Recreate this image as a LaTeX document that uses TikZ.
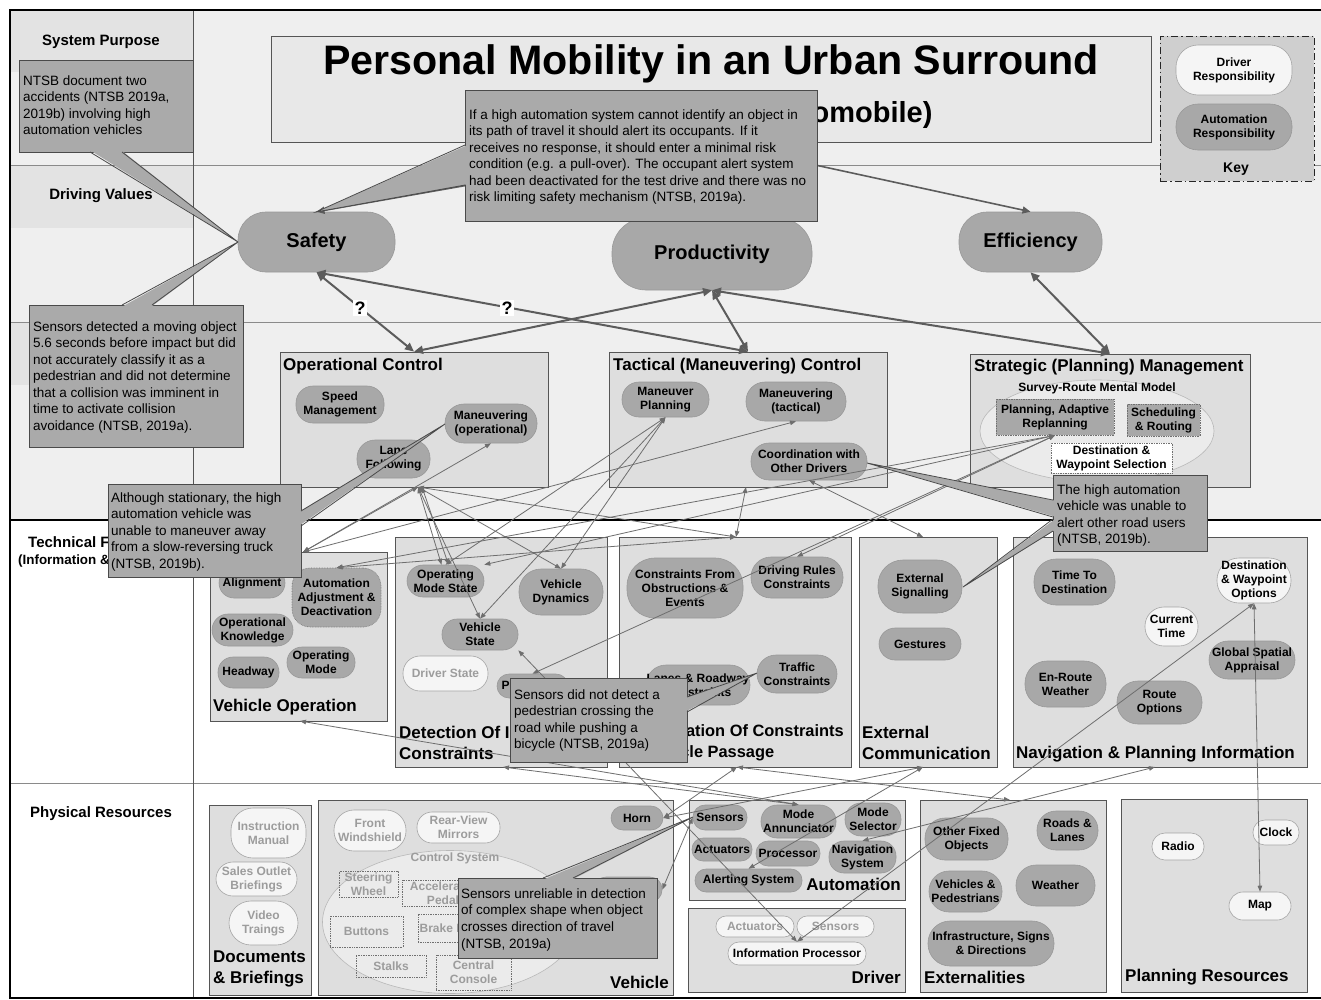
\documentclass[tikz,border=0pt]{standalone}
\usepackage{fontspec}
\setmainfont{Liberation Sans}
\usetikzlibrary{arrows.meta,shapes.geometric}

\definecolor{lanebg}{HTML}{EFEFEF}
\definecolor{band}{HTML}{E3E3E3}
\definecolor{boxfill}{HTML}{DEDEDE}
\definecolor{boxline}{HTML}{555555}
\definecolor{autofill}{HTML}{A8A8A8}
\definecolor{autoline}{HTML}{989898}
\definecolor{drvfill}{HTML}{F5F5F5}
\definecolor{drvline}{HTML}{A5A5A5}
\definecolor{notefill}{HTML}{AAAAAA}
\definecolor{noteline}{HTML}{4A4A4A}
\definecolor{faint}{HTML}{9C9C9C}
\definecolor{linkc}{HTML}{6E6E6E}
\definecolor{vlinkc}{HTML}{5C5C5C}
\definecolor{keyfill}{HTML}{CFCFCF}
\definecolor{titlefill}{HTML}{E8E8E8}
\definecolor{mmfill}{HTML}{EBEBEB}
\definecolor{mmline}{HTML}{B8B8B8}
\definecolor{dotline}{HTML}{707070}
\definecolor{sepline}{HTML}{8A8A8A}

% place a node by its bounding corners (x1,y1) (x2,y2)
\newcommand\placenode[7]{%
  \pgfmathsetmacro\pnx{(#3+#5)/2}%
  \pgfmathsetmacro\pny{(#4+#6)/2}%
  \pgfmathsetmacro\pnw{#5-#3}%
  \pgfmathsetmacro\pnh{#6-#4}%
  \node[#1, minimum width=\pnw pt, minimum height=\pnh pt] (#2) at (\pnx,\pny) {#7};}

\tikzset{
  lbl/.style={font=\bfseries\fontsize{12}{14}\selectfont, align=center, text=black},
  anode/.style={rectangle, rounded corners=#1, draw=autoline, fill=autofill, line width=0.6pt, inner sep=0pt, lbl},
  anode/.default=12pt,
  dnode/.style={rectangle, rounded corners=#1, draw=drvline, fill=drvfill, line width=0.6pt, inner sep=0pt, lbl},
  dnode/.default=12pt,
  faded/.style={text=faint},
  dotbox/.style={rectangle, draw=dotline, densely dotted, line width=0.7pt, inner sep=0pt, lbl},
  box/.style={rectangle, draw=boxline, fill=boxfill, line width=0.8pt, inner sep=0pt},
  boxtitle/.style={font=\bfseries\fontsize{17}{21}\selectfont, inner sep=0pt, align=left},
  lanelabel/.style={font=\bfseries\fontsize{15}{18}\selectfont, align=center, inner sep=0pt},
  vnode/.style={rectangle, rounded corners=28pt, draw=autoline, fill=autofill, line width=0.6pt, inner sep=0pt, font=\bfseries\fontsize{20}{24}\selectfont},
  note/.style={rectangle, draw=noteline, fill=notefill, line width=0.8pt, inner sep=0pt},
  notetext/.style={font=\fontsize{13.5}{16.5}\selectfont, align=left, anchor=north west, inner sep=0pt},
  wedgeline/.style={draw=noteline, line width=0.8pt, line join=miter},
  link/.style={draw=linkc, line width=0.8pt, >={Triangle[length=6pt,width=4.5pt]}, <->},
  vlink/.style={draw=vlinkc, line width=2pt, >={Triangle[length=9pt,width=8pt]}, <->},
  tlink/.style={draw=vlinkc, line width=1.6pt, >={Triangle[length=8pt,width=7pt]}, ->},
  qmark/.style={fill=white, inner sep=1.5pt, font=\bfseries\fontsize{18}{18}\selectfont},
}

\begin{document}
\begin{tikzpicture}[x=1pt,y=-1pt]
\useasboundingbox (0,0) rectangle (1321,999);

% ---------------- lanes ----------------
\fill[white] (0,0) rectangle (1321,999);
\fill[lanebg] (10,10) rectangle (1321,520);
\fill[band] (10,10) rectangle (193,72);
\fill[band] (10,166) rectangle (193,228);
\fill[band] (10,323) rectangle (193,385);
\draw[sepline, line width=0.8pt] (10,165) -- (1321,165);
\draw[sepline, line width=0.8pt] (10,322) -- (1321,322);
\draw[black, line width=1.3pt] (10,520) -- (1321,520);
\draw[sepline, line width=0.8pt] (10,783) -- (1321,783);
\draw[boxline, line width=0.8pt] (193,10) -- (193,998);
\draw[black, line width=1.6pt] (1321,10) -- (10,10) -- (10,998) -- (1321,998);

\node[lanelabel] (lsp) at (101,42) {System Purpose};
\node[lanelabel] (ldv) at (101,196) {Driving Values};
\node[lanelabel, anchor=west] (ltf) at (28,542) {Technical Functions};
\node[font=\bfseries\fontsize{13.4}{16}\selectfont, anchor=west, inner sep=0pt] (ltf2) at (18,561) {(Information \& Resources)};
\node[lanelabel] (lpr) at (101,814) {Physical Resources};

% ---------------- title and key ----------------
\placenode{rectangle, draw=boxline, fill=titlefill, line width=0.8pt, inner sep=0pt}{title}{271}{36}{1151}{142}{}
\node[font=\bfseries\fontsize{41.2}{44}\selectfont] (t1) at (711,64) {Personal Mobility in an Urban Surround};
\node[font=\bfseries\fontsize{29}{34}\selectfont, anchor=east] (t2) at (936,115) {(Automobile)};

\placenode{rectangle, draw=black!85, fill=keyfill, line width=1pt, dash pattern=on 7pt off 3pt on 1.5pt off 3pt, inner sep=0pt}{key}{1160}{36}{1314}{181}{}
\placenode{dnode=22pt}{kdrv}{1176}{45}{1292}{95}{Driver\\Responsibility}
\placenode{anode=22pt}{kaut}{1176}{104}{1292}{150}{Automation\\Responsibility}
\node[font=\bfseries\fontsize{14}{16}\selectfont] (keyl) at (1236,169) {Key};

% ---------------- driving values ----------------
\placenode{vnode}{safety}{238}{212}{395}{272}{Safety}
\placenode{vnode, rounded corners=34pt}{prod}{612}{218}{812}{290}{Productivity}
\placenode{vnode}{eff}{959}{212}{1102}{272}{Efficiency}

% ---------------- control levels ----------------
\placenode{box}{opctl}{280}{352}{548}{487}{}
\node[boxtitle, anchor=north west] (opctlt) at (283,358) {Operational Control};
\placenode{anode=17pt}{speed}{296}{386}{384}{423}{Speed\\Management}
\placenode{anode=19pt}{manop}{445}{404}{537}{443}{Maneuvering\\(operational)}
\placenode{anode=18pt}{lanef}{357}{440}{430}{478}{Lane\\Following}

\placenode{box}{tacctl}{609}{352}{887}{487}{}
\node[boxtitle, anchor=north west] (tacctlt) at (613,358) {Tactical (Maneuvering) Control};
\placenode{anode=17pt}{manplan}{622}{382}{709}{417}{Maneuver\\Planning}
\placenode{anode=19pt}{mantac}{746}{382}{846}{421}{Maneuvering\\(tactical)}
\placenode{anode=18pt}{coord}{751}{443}{867}{480}{Coordination with\\Other Drivers}

\placenode{box}{strat}{970}{354}{1250}{487}{}
\node[boxtitle, anchor=north west] (stratt) at (974,359) {Strategic (Planning) Management};
\node[ellipse, draw=mmline, fill=mmfill, line width=0.6pt, minimum width=234pt, minimum height=102pt, inner sep=0pt] (mm) at (1097,431) {};
\node[lbl] (mml) at (1097,388) {Survey-Route Mental Model};
\placenode{dotbox, fill=autofill}{replan}{996}{399}{1114}{435}{Planning, Adaptive\\Replanning}
\placenode{dotbox, fill=autofill}{sched}{1127}{404}{1200}{436}{Scheduling\\\& Routing}
\placenode{dotbox, fill=white}{destsel}{1051}{443}{1172}{473}{Destination \&\\Waypoint Selection}

% ---------------- technical functions ----------------
\placenode{box}{vehop}{210}{552}{387}{721}{}
\placenode{anode=15pt}{alignn}{219}{568}{285}{598}{Alignment}
\placenode{anode=18pt, densely dotted, draw=dotline}{autoadj}{292}{568}{381}{627}{Automation\\Adjustment \&\\Deactivation}
\placenode{anode=16pt}{opknow}{212}{614}{293}{646}{Operational\\Knowledge}
\placenode{anode=15pt}{headway}{218}{657}{279}{688}{Headway}
\placenode{anode=15pt}{opmode}{287}{647}{355}{678}{Operating\\Mode}
\node[boxtitle, anchor=west] (vehopt) at (213,707) {Vehicle Operation};

\placenode{box}{dint}{395}{537}{607}{767}{}
\placenode{anode=16pt}{oms}{407}{565}{484}{597}{Operating\\Mode State}
\placenode{anode=22pt}{vdyn}{519}{569}{603}{615}{Vehicle\\Dynamics}
\placenode{anode=15pt}{vstate}{442}{619}{518}{650}{Vehicle\\State}
\placenode{dnode=17pt, faded}{drvst}{403}{656}{488}{691}{Driver State}
\placenode{anode=12pt}{perc}{497}{674}{568}{698}{Perception}
\node[boxtitle, anchor=west] (dintt) at (399,743) {Detection Of Internal\\Constraints};

\placenode{box}{dcon}{619}{537}{851}{767}{}
\placenode{anode=28pt}{cfo}{627}{558}{743}{618}{Constraints From\\Obstructions \&\\Events}
\placenode{anode=20pt}{drc}{751}{557}{843}{598}{Driving Rules\\Constraints}
\placenode{anode=20pt}{lrc}{646}{665}{750}{705}{Lanes \& Roadway\\Constraints}
\placenode{anode=19pt}{tcon}{757}{655}{837}{693}{Traffic\\Constraints}
\node[boxtitle, font=\bfseries\fontsize{16.4}{21}\selectfont, anchor=west] (dcont) at (623,743) {Identification Of Constraints\\To Vehicle Passage};

\placenode{box}{extc}{859}{537}{997}{767}{}
\placenode{anode=25pt}{extsig}{878}{560}{962}{613}{External\\Signalling}
\placenode{anode=16pt}{gest}{879}{628}{961}{660}{Gestures}
\node[boxtitle, anchor=west] (extct) at (862,743) {External\\Communication};

\placenode{box}{navp}{1013}{537}{1307}{767}{}
\placenode{anode=22pt}{ttd}{1034}{559}{1115}{605}{Time To\\Destination}
\placenode{dnode=22pt}{dwo}{1217}{558}{1291}{603}{Destination\\\& Waypoint\\Options}
\placenode{dnode=19pt}{ctime}{1145}{607}{1198}{646}{Current\\Time}
\placenode{anode=19pt}{gsa}{1209}{641}{1295}{679}{Global Spatial\\Appraisal}
\placenode{anode=22pt}{erw}{1025}{661}{1106}{707}{En-Route\\Weather}
\placenode{anode=21pt}{ropt}{1117}{681}{1202}{724}{Route\\Options}
\node[boxtitle, anchor=west] (navpt) at (1016,754) {Navigation \& Planning Information};

% ---------------- physical resources ----------------
\placenode{box}{docs}{209}{805}{311}{995}{}
\placenode{dnode=22pt, faded}{instr}{231}{808}{306}{858}{Instruction\\Manual}
\placenode{dnode=17pt, faded}{sales}{216}{862}{297}{896}{Sales Outlet\\Briefings}
\placenode{dnode=22pt, faded}{video}{229}{901}{298}{945}{Video\\Traings}
\node[boxtitle, anchor=west] (docst) at (213,969) {Documents\\\& Briefings};

\placenode{box}{veh}{318}{800}{673}{995}{}
\placenode{dnode=20pt, faded}{fws}{334}{810}{406}{851}{Front\\Windshield}
\placenode{dnode=15pt, faded}{rvm}{417}{812}{500}{843}{Rear-View\\Mirrors}
\node[ellipse, draw=mmline, fill=mmfill, line width=0.6pt, minimum width=255pt, minimum height=143pt, inner sep=0pt] (ctrl) at (450,922) {};
\node[lbl, faded] (ctrll) at (455,858) {Control System};
\placenode{dotbox, faded}{steer}{339}{871}{398}{897}{Steering\\Wheel}
\placenode{dotbox, faded}{accel}{402}{880}{484}{906}{Accelerator\\Pedal}
\placenode{dotbox, faded}{btn}{330}{916}{403}{947}{Buttons}
\placenode{dotbox, faded}{brake}{418}{914}{490}{942}{Brake Pedal}
\placenode{dotbox, faded}{stalks}{356}{955}{426}{977}{Stalks}
\placenode{dotbox, faded}{console}{436}{955}{511}{990}{Central\\Console}
\placenode{anode=12pt}{horn}{611}{806}{663}{830}{Horn}
\placenode{anode=12pt}{hpill}{594}{877}{662}{902}{}
\node[boxtitle, anchor=east] (veht) at (669,982) {Vehicle};

\placenode{box}{autob}{689}{800}{905}{900}{}
\placenode{anode=12pt}{asens}{693}{805}{747}{830}{Sensors}
\placenode{anode=16pt}{annun}{761}{805}{836}{838}{Mode\\Annunciator}
\placenode{anode=16pt}{msel}{845}{803}{901}{836}{Mode\\Selector}
\placenode{anode=11pt}{aact}{692}{838}{752}{861}{Actuators}
\placenode{anode=12pt}{proc}{756}{841}{820}{866}{Processor}
\placenode{anode=15pt}{navsys}{829}{841}{896}{873}{Navigation\\System}
\placenode{anode=11pt}{alert}{695}{869}{802}{892}{Alerting System}
\node[boxtitle, anchor=east] (autot) at (901,884) {Automation};

\placenode{box}{drvb}{688}{908}{905}{992}{}
\placenode{dnode=10pt, faded}{dact}{716}{916}{794}{937}{Actuators}
\placenode{dnode=10pt, faded}{dsens}{797}{916}{874}{937}{Sensors}
\placenode{dnode=11pt}{infoproc}{728}{942}{866}{965}{Information Processor}
\node[boxtitle, anchor=east] (drvt) at (901,977) {Driver};

\placenode{box}{extb}{920}{800}{1106}{992}{}
\placenode{anode=20pt}{ofo}{925}{818}{1008}{860}{Other Fixed\\Objects}
\placenode{anode=19pt}{roads}{1037}{811}{1098}{850}{Roads \&\\Lanes}
\placenode{anode=20pt}{vped}{929}{871}{1002}{912}{Vehicles \&\\Pedestrians}
\placenode{anode=20pt}{weather}{1016}{865}{1095}{906}{Weather}
\placenode{anode=22pt}{infra}{928}{921}{1054}{966}{Infrastructure, Signs\\\& Directions}
\node[boxtitle, anchor=west] (extbt) at (924,977) {Externalities};

\placenode{box}{planr}{1121}{799}{1307}{992}{}
\placenode{dnode=13pt}{radio}{1152}{833}{1204}{860}{Radio}
\placenode{dnode=12pt}{clock}{1253}{820}{1299}{845}{Clock}
\placenode{dnode=14pt}{map}{1229}{892}{1291}{920}{Map}
\node[boxtitle, anchor=west] (planrt) at (1125,977) {Planning Resources};

% ---------------- connectors ----------------
\coordinate (oc-bot) at (418,487);
\coordinate (tc-bot) at (746,487);
\coordinate (vo-top) at (303,552);
\coordinate (vo-bot) at (300,721);
\coordinate (di-bot) at (503,767);
\coordinate (dc-top) at (736,537);
\coordinate (dc-bot) at (737,767);
\coordinate (ec-top) at (923,537);
\coordinate (ec-bot) at (923,767);
\coordinate (np-bot) at (1155,767);
\coordinate (ex-top) at (1010,800);

\draw[link] (oc-bot) -- (vo-top);
\draw[link] (oc-bot) -- ([xshift=-4pt]oms.north);
\draw[link] ([xshift=4pt]oc-bot) -- ([xshift=3pt]oms.north);
\draw[link] (oc-bot) -- (vstate.north);
\draw[link] (oc-bot) -- (vdyn.north);
\draw[link] (oc-bot) -- (dc-top);
\draw[link] (manop.south) -- (vo-top);
\draw[link] (mantac.south) -- (vo-top);
\draw[link] (manplan.south) -- (oms.north);
\draw[link] (manplan.south) -- (vstate.north);
\draw[link] (manplan.south) -- (vdyn.north);
\draw[link] (coord.south) -- (ec-top);
\draw[link] (tc-bot) -- (dc-top);
\draw[link] (replan.south) -- (autoadj.north);
\draw[link] (replan.south) -- (oms.north east);
\draw[link] (replan.south) -- (perc.north);
\draw[link] (replan.south) -- (drc.north);
\draw[link] (autoadj.north) -- (dc-top);
\draw[link] (annun.north) -- (vo-bot);
\draw[link] (annun.north) -- (di-bot);
\draw[link] (ex-top) -- (dc-bot);
\draw[link] (horn.east) -- (ec-bot);
\draw[link] (horn.east) -- (dc-bot);
\draw[link] (hpill.east) -- (asens.west);
\draw[link] (alert.north) -- (ec-bot);
\draw[link] (navsys.north) -- (np-bot);
\draw[link] (dwo.south) -- (infoproc.north);
\draw[link] (dwo.south) -- (map.north);
\draw[link] (vstate.south east) -- (infoproc.north);

\draw[tlink] (title.south) -- (safety.north);
\draw[tlink] (title.south) -- (prod.north);
\draw[tlink] (title.south) -- (eff.north);

\draw[vlink] (safety.south) -- (opctl.north);
\draw[vlink] (safety.south) -- (tacctl.north);
\draw[vlink] (prod.south) -- (opctl.north);
\draw[vlink] (prod.south) -- (tacctl.north);
\draw[vlink] (prod.south) -- (strat.north);
\draw[vlink] (eff.south) -- (strat.north);
\node[qmark] (q1) at (360,308) {?};
\node[qmark] (q2) at (507,308) {?};

% ---------------- accident notes ----------------
\placenode{note}{n1}{19}{60}{193}{152}{}
\fill[notefill] (90.5,150.5) -- (238,242) -- (121.5,150.5) -- cycle;
\draw[wedgeline] (90,152) -- (238,242) -- (122,152);
\node[notetext] (n1t) at (23,75.5) {NTSB document two\\accidents (NTSB 2019a,\\2019b) involving high\\automation vehicles};

\placenode{note}{n2}{29}{305}{243}{447}{}
\fill[notefill] (122.5,306.5) -- (238,242) -- (151.5,306.5) -- cycle;
\draw[wedgeline] (122,305) -- (238,242) -- (152,305);
\node[notetext] (n2t) at (33,321.5) {Sensors detected a moving object\\5.6 seconds before impact but did\\not accurately classify it as a\\pedestrian and did not determine\\that a collision was imminent in\\time to activate collision\\avoidance (NTSB, 2019a).};

\placenode{note}{n3}{465}{90}{817}{221}{}
\fill[notefill] (466.5,145.5) -- (316,212) -- (466.5,184.5) -- cycle;
\draw[wedgeline] (465,145) -- (316,212) -- (465,185);
\node[notetext] (n3t) at (469,109.5) {If a high automation system cannot identify an object in\\its path of travel it should alert its occupants. If it\\receives no response, it should enter a minimal risk\\condition (e.g. a pull-over). The occupant alert system\\had been deactivated for the test drive and there was no\\risk limiting safety mechanism (NTSB, 2019a).};

\placenode{note}{n4}{108}{484}{301}{577}{}
\fill[notefill] (299.5,511.5) -- (445,424) -- (299.5,525.5) -- cycle;
\draw[wedgeline] (301,511) -- (445,424) -- (301,526);
\node[notetext] (n4t) at (111,492.5) {Although stationary, the high\\automation vehicle was\\unable to maneuver away\\from a slow-reversing truck\\(NTSB, 2019b).};

\placenode{note}{n5}{510}{678}{687}{762}{}
\fill[notefill] (685.5,697.5) -- (757,673) -- (685.5,711.5) -- cycle;
\draw[wedgeline] (687,697) -- (757,673) -- (687,712);
\node[notetext] (n5t) at (514,689.5) {Sensors did not detect a\\pedestrian crossing the\\road while pushing a\\bicycle (NTSB, 2019a)};

\placenode{note}{n6}{1053}{475}{1207}{551}{}
\fill[notefill] (1054.5,500.5) -- (867,463) -- (1054.5,516.5) -- cycle;
\draw[wedgeline] (1053,500) -- (867,463) -- (1053,517);
\fill[notefill] (1054.5,519.5) -- (963,587) -- (1054.5,530.5) -- cycle;
\draw[wedgeline] (1053,519) -- (963,587) -- (1053,531);
\node[notetext] (n6t) at (1057,484.5) {The high automation\\vehicle was unable to\\alert other road users\\(NTSB, 2019b).};

\placenode{note}{n7}{458}{878}{657}{958}{}
\fill[notefill] (543.5,879.5) -- (693,817) -- (572.5,879.5) -- cycle;
\draw[wedgeline] (543,878) -- (693,817) -- (573,878);
\node[notetext] (n7t) at (461,888.5) {Sensors unreliable in detection\\of complex shape when object\\crosses direction of travel\\(NTSB, 2019a)};

\end{tikzpicture}
\end{document}
